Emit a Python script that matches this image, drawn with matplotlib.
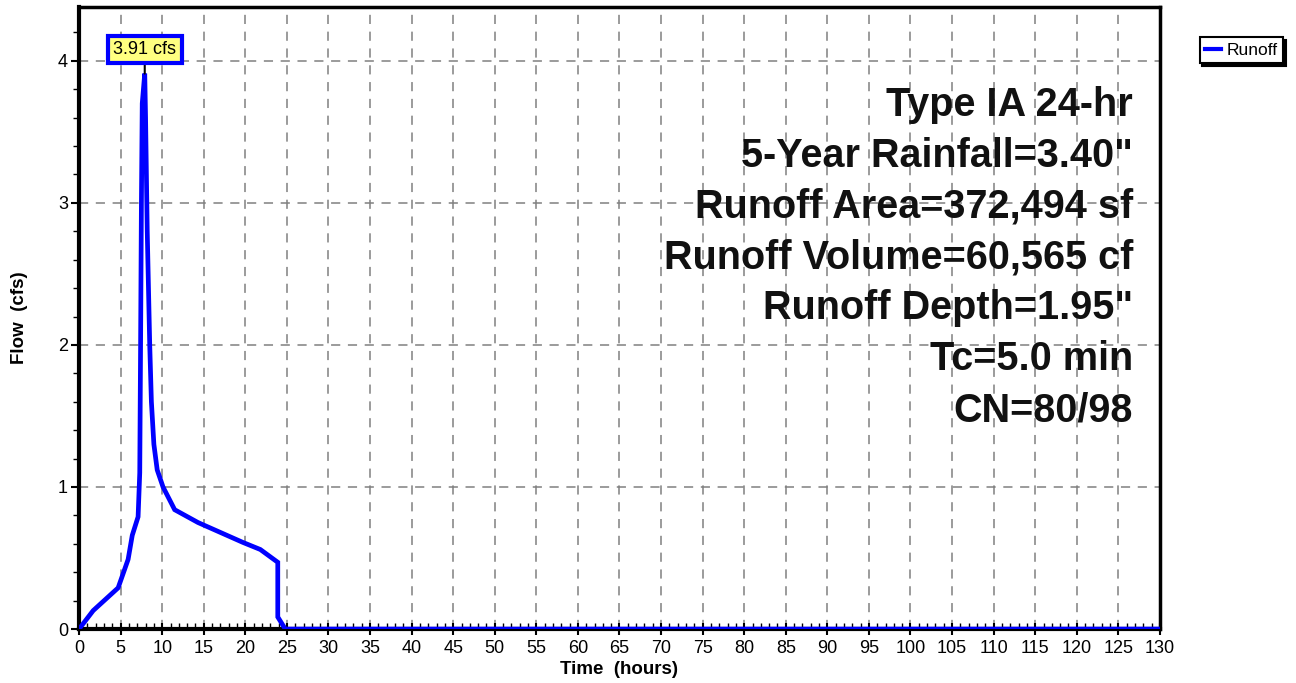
import matplotlib
matplotlib.use("Agg")
import matplotlib.pyplot as plt
from matplotlib.ticker import MultipleLocator

plt.rcParams['font.family'] = ['Liberation Sans', 'DejaVu Sans']

# Hydrograph data (hours, cfs)
time_h = [0, 1.7, 4.7, 5.9, 6.4, 7.1, 7.3, 7.4, 7.5, 7.6, 7.9, 8.0, 8.2, 8.5, 8.7, 9.0,
          9.4, 10.1, 11.5, 14.3, 19.7, 21.8, 23.9, 23.9, 24.8, 130]
flow_cfs = [0, 0.13, 0.29, 0.49, 0.66, 0.79, 1.1, 2.0, 3.0, 3.7, 3.91, 3.6, 2.8, 2.0, 1.6, 1.3,
            1.12, 1.0, 0.84, 0.75, 0.61, 0.56, 0.47, 0.085, 0.0, 0.0]
peak_label = "3.91 cfs"
peak_time = 7.9
peak_flow = 3.91
info_lines = ["Type IA 24-hr", "5-Year Rainfall=3.40\"", "Runoff Area=372,494 sf",
              "Runoff Volume=60,565 cf", "Runoff Depth=1.95\"", "Tc=5.0 min", "CN=80/98"]
series_name = "Runoff"

fig = plt.figure(figsize=(12.96, 6.83), dpi=100)
ax = fig.add_axes([0.061, 0.079, 0.834, 0.911])

ax.plot(time_h, flow_cfs, color='#0000ff', lw=3.4, solid_joinstyle='miter', zorder=3)

ax.set_xlim(0, 130)
ax.set_ylim(0, 4.38)
ax.xaxis.set_major_locator(MultipleLocator(5))
ax.xaxis.set_minor_locator(MultipleLocator(1))
ax.yaxis.set_major_locator(MultipleLocator(1))
ax.yaxis.set_minor_locator(MultipleLocator(0.2))
ax.grid(True, which='major', color='#808080', ls=(0, (6, 5)), lw=1.1)
ax.tick_params(axis='x', which='major', direction='inout', length=8, width=1.5, labelsize=13, pad=4)
ax.tick_params(axis='x', which='minor', direction='in', length=4, width=1)
ax.tick_params(axis='y', which='major', direction='out', length=6, width=1.5, labelsize=13, pad=2)
ax.tick_params(axis='y', which='minor', direction='out', length=4, width=1)
for s in ['left', 'bottom', 'top', 'right']:
    ax.spines[s].set_linewidth(3 if s in ('left', 'bottom') else 2.5)
    ax.spines[s].set_color('black')

ax.set_xlabel("Time  (hours)", fontsize=13.5, fontweight='bold', labelpad=3)
ax.set_ylabel("Flow  (cfs)", fontsize=13.5, fontweight='bold')
ax.yaxis.set_label_coords(-0.047, 0.5)

# Peak annotation
ax.annotate(peak_label, xy=(peak_time, peak_flow), xytext=(peak_time, 4.08),
            ha='center', va='center', fontsize=13,
            bbox=dict(boxstyle='square,pad=0.3', fc='#ffff80', ec='#0000ff', lw=3),
            arrowprops=dict(arrowstyle='-', color='black', lw=1.5, shrinkA=0, shrinkB=0),
            zorder=5)

# Info block
y0 = 0.842
for i, line in enumerate(info_lines):
    ax.text(0.975, y0 - i * 0.0817, line, transform=ax.transAxes, ha='right', va='center',
            fontsize=28.5, fontweight='bold', color='#111111')

# Legend
leg = fig.legend(handles=[plt.Line2D([], [], color='#0000ff', lw=3)], labels=[series_name],
                 loc='upper left', bbox_to_anchor=(0.919, 0.958), fontsize=12.5,
                 handlelength=0.9, handletextpad=0.35, borderpad=0.3,
                 fancybox=False, shadow={'color': 'black', 'alpha': 1}, framealpha=1)
leg.get_frame().set_edgecolor('black')
leg.get_frame().set_linewidth(1.5)

fig.savefig("out.png", dpi=100)
